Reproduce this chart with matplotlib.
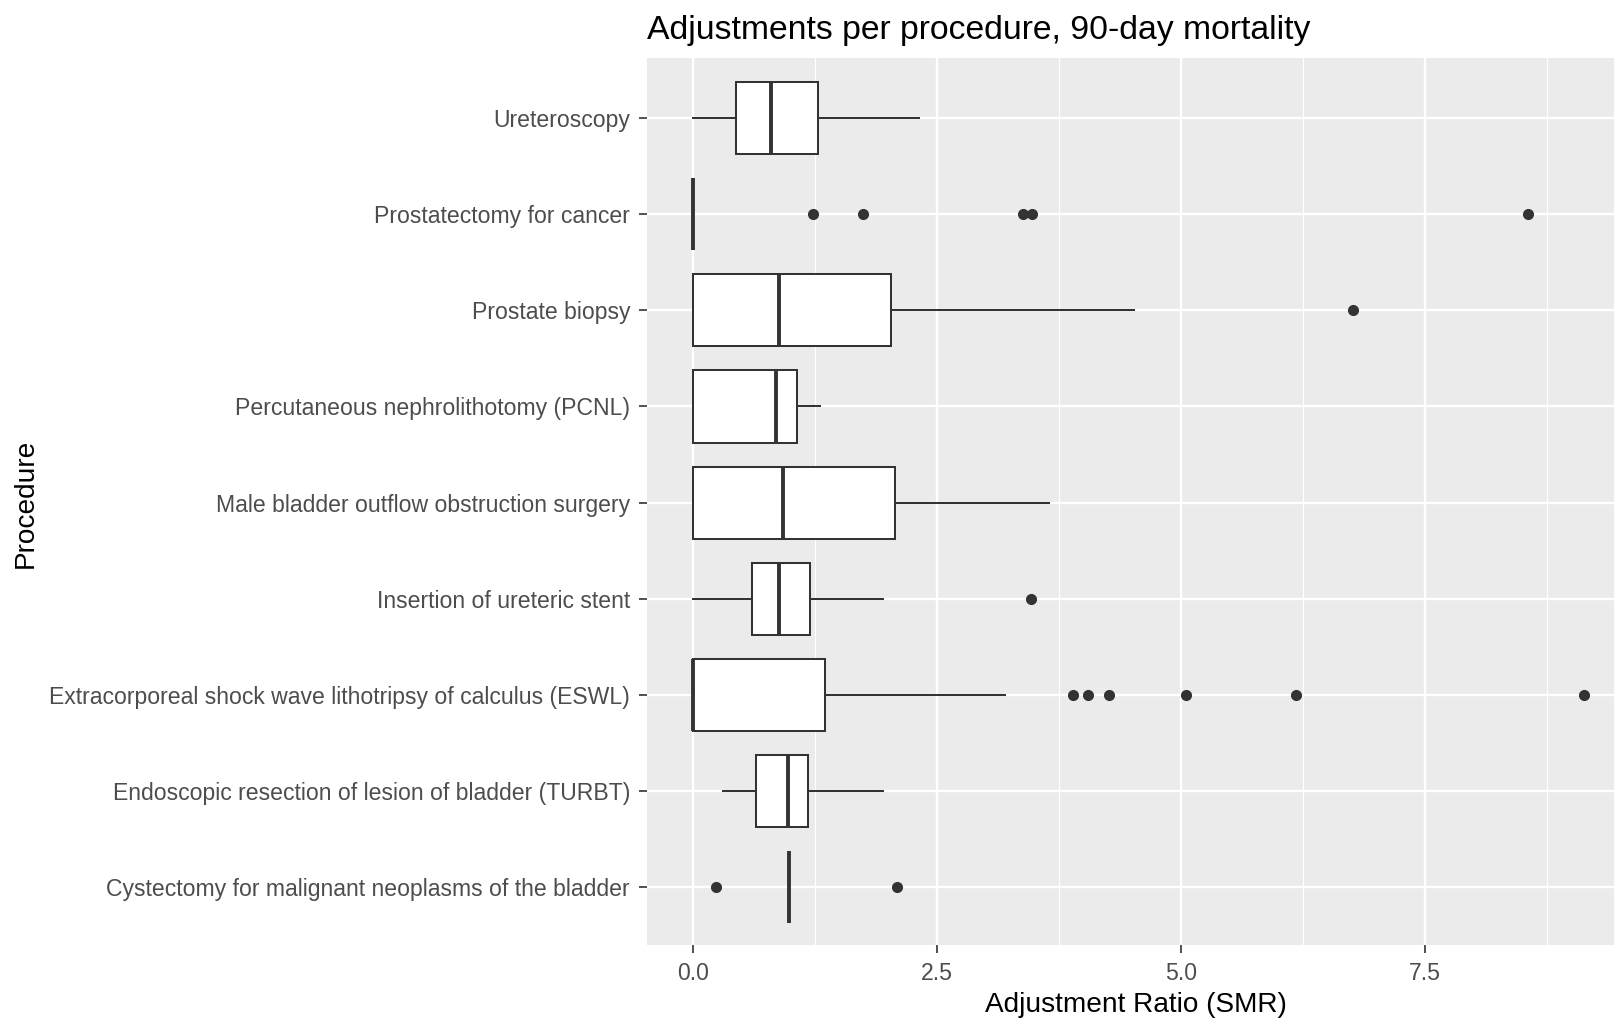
import matplotlib
matplotlib.use("Agg")
import matplotlib.pyplot as plt
from matplotlib.ticker import MultipleLocator

plt.rcParams['font.family'] = ['Liberation Sans', 'DejaVu Sans']

# ---- data ----
procedures = [
    "Cystectomy for malignant neoplasms of the bladder",
    "Endoscopic resection of lesion of bladder (TURBT)",
    "Extracorporeal shock wave lithotripsy of calculus (ESWL)",
    "Insertion of ureteric stent",
    "Male bladder outflow obstruction surgery",
    "Percutaneous nephrolithotomy (PCNL)",
    "Prostate biopsy",
    "Prostatectomy for cancer",
    "Ureteroscopy",
]
whislo = [0.98, 0.30, 0.00, 0.00, 0.00, 0.00, 0.00, 0.00, 0.00]
q1     = [0.98, 0.64, 0.00, 0.60, 0.00, 0.00, 0.00, 0.00, 0.44]
med    = [0.98, 0.97, 0.00, 0.88, 0.92, 0.85, 0.88, 0.00, 0.80]
q3     = [0.98, 1.18, 1.355, 1.20, 2.07, 1.06, 2.03, 0.00, 1.28]
whishi = [0.98, 1.94, 3.20, 1.94, 3.65, 1.30, 4.52, 0.00, 2.31]
outliers = [
    [0.23, 2.09],
    [],
    [3.89, 4.05, 4.26, 5.05, 6.18, 9.13],
    [3.46],
    [],
    [],
    [6.76],
    [1.23, 1.74, 3.38, 3.47, 8.56],
    [],
]
x_ticks = [0.0, 2.5, 5.0, 7.5]
x_tick_labels = ["0.0", "2.5", "5.0", "7.5"]

title = "Adjustments per procedure, 90-day mortality"
xlabel = "Adjustment Ratio (SMR)"
ylabel = "Procedure"

# ---- figure ----
W, H, DPI = 1614, 1019, 100
fig = plt.figure(figsize=(W / DPI, H / DPI), dpi=DPI)
p_left, p_right, p_top, p_bottom = 646.7, 1614, 58.3, 945
left, right, top, bottom = p_left / W, p_right / W, 1 - p_top / H, 1 - p_bottom / H
ax = fig.add_axes([left, bottom, right - left, top - bottom])
ax.set_facecolor("#EBEBEB")
for s in ax.spines.values():
    s.set_visible(False)

stats = []
for i, name in enumerate(procedures):
    stats.append(dict(label=name, whislo=whislo[i], q1=q1[i], med=med[i],
                      q3=q3[i], whishi=whishi[i], fliers=outliers[i]))

dark = "#333333"
positions = list(range(1, len(procedures) + 1))
ax.bxp(stats, positions=positions, vert=False, widths=0.75, patch_artist=True,
       showcaps=False, manage_ticks=False,
       boxprops=dict(facecolor="white", edgecolor=dark, linewidth=1.45),
       whiskerprops=dict(color=dark, linewidth=1.45),
       medianprops=dict(color=dark, linewidth=2.8, solid_capstyle="butt"),
       flierprops=dict(marker="o", markerfacecolor=dark, markeredgecolor=dark,
                       markersize=7.0, linestyle="none"),
       zorder=3)

ax.set_xlim(-0.478, 9.44)
ax.set_ylim(0.4, len(procedures) + 0.62)

ax.set_xticks(x_ticks)
ax.set_xticklabels(x_tick_labels)
ax.xaxis.set_minor_locator(MultipleLocator(1.25))
ax.set_yticks(positions)
ax.set_yticklabels(procedures)

ax.grid(which="major", color="white", linewidth=1.7, zorder=0)
ax.grid(which="minor", axis="x", color="white", linewidth=0.85, zorder=0)
ax.set_axisbelow(True)
ax.tick_params(axis="both", which="major", length=5.5, width=1.2, color=dark,
               labelcolor="#4D4D4D", labelsize=16.6, pad=6.5)
ax.tick_params(axis="x", which="minor", length=0)

fig.text(1135.5 / W, 1 - 1004.5 / H, xlabel, fontsize=20.2, color="black",
         ha="center", va="center")
fig.text(25.7 / W, 1 - 503 / H, ylabel, rotation=90, fontsize=20.2,
         color="black", ha="center", va="center")

fig.text(left, 1 - 39 / H, title, fontsize=24.3, color="black",
         ha="left", va="baseline")

fig.savefig("out.png", dpi=DPI)
